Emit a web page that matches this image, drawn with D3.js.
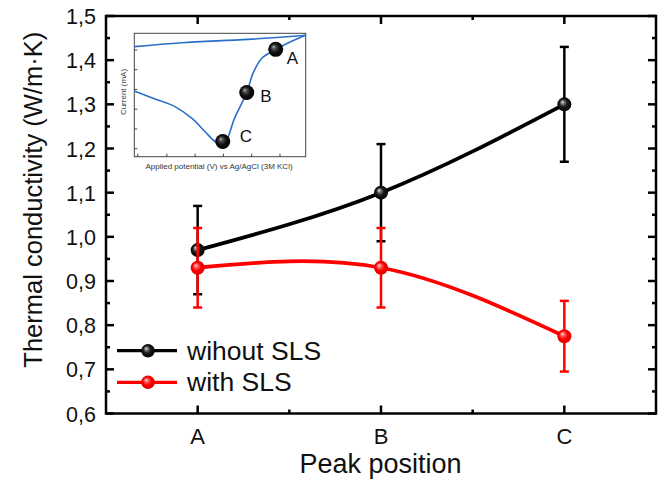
<!DOCTYPE html>
<html>
<head>
<meta charset="utf-8">
<script src="https://cdn.jsdelivr.net/npm/d3@7"></script>
<style>
  html, body { margin: 0; padding: 0; background: #fff; }
  svg { display: block; }
  text { font-family: "Liberation Sans", Arial, Helvetica, sans-serif; }
</style>
</head>
<body>
<svg id="chart" width="665" height="479"></svg>
<script>
// Thermal conductivity at each peak position
const categories = ["A", "B", "C"];
const withoutSLS = [0.97, 1.10, 1.30];
const withoutSLSErr = [0.10, 0.11, 0.13];
const withSLS = [0.93, 0.93, 0.775];
const withSLSErr = [0.09, 0.09, 0.08];
const yTickValues = [0.6, 0.7, 0.8, 0.9, 1.0, 1.1, 1.2, 1.3, 1.4, 1.5];
const yTickLabels = ["0,6", "0,7", "0,8", "0,9", "1,0", "1,1", "1,2", "1,3", "1,4", "1,5"];
const seriesNames = ["wihout SLS", "with SLS"];

// Inset voltammogram (arbitrary units, 0-100)
const insetUpperV = [0, 27.7, 66.3, 100];
const insetUpperI = [89.2, 92.4, 95.1, 98.4];
const insetLowerV = [0, 12.1, 23.7, 33.5, 41.2, 47.1, 52, 58.6, 65.6, 69.3, 74.3, 82.5, 89.7, 100];
const insetLowerI = [53.2, 46.8, 40.6, 31.2, 20.4, 12.3, 9.5, 31.5, 52.0, 67.7, 79.6, 86.9, 92.2, 98.4];
const insetPeakLabels = ["A", "B", "C"];
const insetPeakV = [82.5, 65.6, 51.6];
const insetPeakI = [87, 52, 12.3];
const insetVTicks = [2, 19, 35.5, 52, 68.5, 85];
const insetITicks = [6.5, 22.5, 38.5, 54.5, 70.5, 86.5];

const svg = d3.select("#chart");
const L = 106, R = 656, T = 16, B = 413.5;

const x = d3.scaleLinear().domain([0.5, 3.5]).range([L, R]);
const y = d3.scaleLinear().domain([0.6, 1.5]).range([B, T]);
const xi = i => x(i + 1);

// sphere gradients
const defs = svg.append("defs");
function sphere(id, stops) {
  const g = defs.append("radialGradient").attr("id", id)
    .attr("cx", "50%").attr("cy", "50%").attr("r", "55%")
    .attr("fx", "35%").attr("fy", "32%");
  stops.forEach(s => g.append("stop").attr("offset", s[0]).attr("stop-color", s[1]));
}
sphere("gBlack", [[0, "#e6e6e6"], [0.22, "#7a7a7a"], [0.5, "#1a1a1a"], [1, "#000"]]);
sphere("gRed", [[0, "#ffe0e0"], [0.25, "#ff6060"], [0.55, "#ff0000"], [1, "#d80000"]]);
sphere("gInset", [[0, "#bdbdbd"], [0.2, "#555"], [0.55, "#111"], [1, "#000"]]);

// ---- inset panel ----
const IL = 134.3, IR = 305.7, IT = 33.3, IB = 156.7;
const ix = d3.scaleLinear().domain([0, 100]).range([IL, IR]);
const iy = d3.scaleLinear().domain([0, 100]).range([IB, IT]);
const inset = svg.append("g");
inset.append("rect").attr("x", IL).attr("y", IT).attr("width", IR - IL).attr("height", IB - IT)
  .attr("fill", "#fff").attr("stroke", "#444").attr("stroke-width", 1);
inset.selectAll(".ivt").data(insetVTicks).enter().append("line")
  .attr("x1", d => ix(d)).attr("x2", d => ix(d)).attr("y1", IB).attr("y2", IB - 3)
  .attr("stroke", "#444").attr("stroke-width", 1);
inset.selectAll(".iit").data(insetITicks).enter().append("line")
  .attr("x1", IL).attr("x2", IL + 3).attr("y1", d => iy(d)).attr("y2", d => iy(d))
  .attr("stroke", "#444").attr("stroke-width", 1);
const iline = d3.line().x(d => ix(d[0])).y(d => iy(d[1])).curve(d3.curveCatmullRom.alpha(0.5));
inset.append("path").attr("d", iline(d3.zip(insetUpperV, insetUpperI)))
  .attr("fill", "none").attr("stroke", "#2a6fc9").attr("stroke-width", 1.6);
inset.append("path").attr("d", iline(d3.zip(insetLowerV, insetLowerI)))
  .attr("fill", "none").attr("stroke", "#2a6fc9").attr("stroke-width", 1.6);
inset.selectAll(".ip").data(insetPeakV).enter().append("circle")
  .attr("cx", d => ix(d)).attr("cy", (d, i) => iy(insetPeakI[i])).attr("r", 7.5)
  .attr("fill", "url(#gInset)");
const labelDx = [11, 13.5, 17], labelDy = [15, 9, 0];
inset.selectAll(".il").data(insetPeakLabels).enter().append("text")
  .attr("x", (d, i) => ix(insetPeakV[i]) + labelDx[i])
  .attr("y", (d, i) => iy(insetPeakI[i]) + labelDy[i])
  .attr("font-family", "'Open Sans', sans-serif").attr("font-size", 17).attr("fill", "#111")
  .text(d => d);
inset.append("text").attr("transform", `translate(${IL - 8},${(IT + IB) / 2 - 3}) rotate(-90)`)
  .attr("text-anchor", "middle").attr("font-size", 8).attr("fill", "#444").text("Current (mA)");
inset.append("text").attr("x", (IL + IR) / 2 - 1).attr("y", IB + 12.5)
  .attr("text-anchor", "middle").attr("font-size", 8).attr("fill", "#333")
  .text("Applied potential (V) vs Ag/AgCl (3M KCl)");

// ---- main axes frame ----
const ax = svg.append("g").attr("stroke", "#000").attr("stroke-width", 2.5);
ax.append("rect").attr("x", L).attr("y", T).attr("width", R - L).attr("height", B - T).attr("fill", "none");
const yMinor = d3.range(0.65, 1.5, 0.1);
yTickValues.forEach(v => {
  ax.append("line").attr("x1", L).attr("x2", L + 8).attr("y1", y(v)).attr("y2", y(v));
  ax.append("line").attr("x1", R).attr("x2", R - 8).attr("y1", y(v)).attr("y2", y(v));
});
yMinor.forEach(v => {
  ax.append("line").attr("x1", L).attr("x2", L + 4).attr("y1", y(v)).attr("y2", y(v));
  ax.append("line").attr("x1", R).attr("x2", R - 4).attr("y1", y(v)).attr("y2", y(v));
});
categories.forEach((c, i) => {
  ax.append("line").attr("x1", xi(i)).attr("x2", xi(i)).attr("y1", B).attr("y2", B - 8);
  ax.append("line").attr("x1", xi(i)).attr("x2", xi(i)).attr("y1", T).attr("y2", T + 8);
});
[1.5, 2.5].forEach(v => {
  ax.append("line").attr("x1", x(v)).attr("x2", x(v)).attr("y1", B).attr("y2", B - 4);
  ax.append("line").attr("x1", x(v)).attr("x2", x(v)).attr("y1", T).attr("y2", T + 4);
});

// tick labels
svg.selectAll(".yl").data(yTickValues).enter().append("text")
  .attr("x", L - 10).attr("y", d => y(d) + 8).attr("text-anchor", "end")
  .attr("font-size", 21.5).attr("fill", "#111").text((d, i) => yTickLabels[i]);
svg.selectAll(".xl").data(categories).enter().append("text")
  .attr("x", (d, i) => xi(i)).attr("y", B + 30).attr("text-anchor", "middle")
  .attr("font-size", 22).attr("fill", "#111").text(d => d);

// axis titles
svg.append("text").attr("x", (L + R) / 2 - 0.5).attr("y", 473).attr("text-anchor", "middle")
  .attr("font-size", 27).attr("fill", "#111").text("Peak position");
svg.append("text").attr("transform", `translate(42,${(T + B) / 2 - 15}) rotate(-90)`)
  .attr("text-anchor", "middle").attr("font-size", 25.5).attr("fill", "#111")
  .text("Thermal conductivity (W/m\u00B7K)");

// ---- series ----
const line = d3.line().x((d, i) => xi(i)).y(d => y(d)).curve(d3.curveNatural);
function drawSeries(vals, errs, color, grad) {
  const g = svg.append("g");
  vals.forEach((v, i) => {
    const e = errs[i];
    g.append("line").attr("x1", xi(i)).attr("x2", xi(i)).attr("y1", y(v - e)).attr("y2", y(v + e))
      .attr("stroke", color).attr("stroke-width", 2.5);
    [v - e, v + e].forEach(w => g.append("line").attr("x1", xi(i) - 4.5).attr("x2", xi(i) + 4.5)
      .attr("y1", y(w)).attr("y2", y(w)).attr("stroke", color).attr("stroke-width", 2.5));
  });
  g.append("path").attr("d", line(vals)).attr("fill", "none").attr("stroke", color)
    .attr("stroke-width", 3.8);
  g.selectAll("circle").data(vals).enter().append("circle")
    .attr("cx", (d, i) => xi(i)).attr("cy", d => y(d)).attr("r", 7).attr("fill", `url(#${grad})`);
}
drawSeries(withoutSLS, withoutSLSErr, "#000", "gBlack");
drawSeries(withSLS, withSLSErr, "#ff0000", "gRed");

// ---- legend ----
const legend = svg.append("g");
const legY = [350.7, 382.3];
[["#000", "gBlack"], ["#ff0000", "gRed"]].forEach((s, i) => {
  legend.append("line").attr("x1", 117).attr("x2", 177).attr("y1", legY[i]).attr("y2", legY[i])
    .attr("stroke", s[0]).attr("stroke-width", 3.2);
  legend.append("circle").attr("cx", 148).attr("cy", legY[i]).attr("r", 6.8).attr("fill", `url(#${s[1]})`);
  legend.append("text").attr("x", 187).attr("y", legY[i] + 9).attr("font-size", 26.5)
    .attr("fill", "#111").text(seriesNames[i]);
});
</script>
</body>
</html>
